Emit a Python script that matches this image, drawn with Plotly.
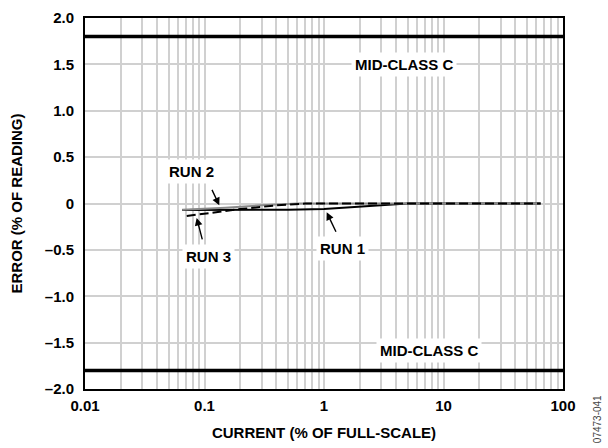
import math
import plotly.graph_objects as go

# ---- data ----
run1_x = [0.065, 0.1, 0.2, 0.5, 1.0, 2.0, 3.5, 5.0, 10.0, 30.0, 65.0]
run1_y = [-0.07, -0.07, -0.07, -0.068, -0.06, -0.035, -0.012, 0.0, 0.0, 0.0, 0.0]

run2_x = [0.065, 0.1, 0.15, 0.3, 0.6, 1.0, 10.0, 65.0]
run2_y = [-0.068, -0.058, -0.045, -0.02, 0.0, 0.0, 0.0, 0.0]

run3_x = [0.071, 0.1, 0.2, 0.4, 0.7, 1.0, 10.0, 65.0]
run3_y = [-0.135, -0.11, -0.06, -0.02, 0.0, 0.0, 0.0, 0.0]

limit_upper = 1.8
limit_lower = -1.8

x_tickvals = [0.01, 0.1, 1, 10, 100]
x_ticktext = ["0.01", "0.1", "1", "10", "100"]
y_tickvals = [-2.0, -1.5, -1.0, -0.5, 0, 0.5, 1.0, 1.5, 2.0]
y_ticktext = ["\u20132.0", "\u20131.5", "\u20131.0", "\u20130.5", "0", "0.5", "1.0", "1.5", "2.0"]
x_minor = [m * 10 ** e for e in (-2, -1, 0, 1) for m in range(2, 10)]

FONT = "Arial, 'Liberation Sans', Helvetica, sans-serif"
FS = 15

fig = go.Figure()

fig.add_trace(go.Scatter(x=run1_x, y=run1_y, mode="lines",
                         line=dict(color="black", width=2), name="RUN 1"))
fig.add_trace(go.Scatter(x=run2_x, y=run2_y, mode="lines",
                         line=dict(color="#8a8a8a", width=2), name="RUN 2"))
fig.add_trace(go.Scatter(x=run3_x, y=run3_y, mode="lines",
                         line=dict(color="black", width=2, dash="9px,4px"), name="RUN 3"))

for yv in (limit_upper, limit_lower):
    fig.add_shape(type="line", xref="paper", yref="y", x0=0, x1=1, y0=yv, y1=yv,
                  line=dict(color="black", width=3.5), layer="above")

txt_font = dict(family=FONT, size=FS, color="black", weight="bold")

def lbl(text, x, y):
    fig.add_annotation(x=math.log10(x), y=y, xref="x", yref="y", text=text,
                       showarrow=False, font=txt_font, bgcolor="white", borderpad=3)

def arr(x, y, ax, ay):
    fig.add_annotation(x=math.log10(x), y=y, xref="x", yref="y", text="",
                       showarrow=True, arrowhead=2, arrowsize=1.1, arrowwidth=1.4,
                       arrowcolor="black", ax=ax, ay=ay)

lbl("MID-CLASS C", 4.67, 1.5)
lbl("MID-CLASS C", 7.57, -1.59)
lbl("RUN 2", 0.078, 0.345)
lbl("RUN 3", 0.107, -0.574)
lbl("RUN 1", 1.44, -0.49)
arr(0.133, -0.02, -8, -17)
arr(0.086, -0.155, 6, 23)
arr(1.053, -0.095, 10, 21)

fig.add_annotation(x=(597 - 85) / (563 - 85), y=(391 - 422) / (391 - 9.5),
                   xref="paper", yref="paper", text="07473-041",
                   xanchor="center", yanchor="middle",
                   showarrow=False, textangle=-90,
                   font=dict(family=FONT, size=10, color="#444"))

fig.update_xaxes(type="log", range=[-2, 2], tickvals=x_tickvals, ticktext=x_ticktext,
                 showgrid=True, gridcolor="#d0d0d0", gridwidth=1.5,
                 minor=dict(tickvals=x_minor, showgrid=True, gridcolor="#d0d0d0", gridwidth=1.5, ticks=""),
                 showline=True, linecolor="black", linewidth=2, mirror=True, ticks="",
                 zeroline=False, ticklabelstandoff=2,
                 tickfont=dict(family=FONT, size=FS, color="black", weight="bold"),
                 title=dict(text="CURRENT (% OF FULL-SCALE)", standoff=14,
                            font=dict(family=FONT, size=FS, color="black", weight="bold")))
fig.update_yaxes(range=[-2, 2], tickvals=y_tickvals, ticktext=y_ticktext,
                 showgrid=True, gridcolor="#d0d0d0", gridwidth=1.5,
                 showline=True, linecolor="black", linewidth=2, mirror=True, ticks="",
                 zeroline=False, ticklabelstandoff=6,
                 tickfont=dict(family=FONT, size=FS, color="black", weight="bold"),
                 title=dict(text="ERROR (% OF READING)", standoff=19,
                            font=dict(family=FONT, size=FS, color="black", weight="bold")))

fig.update_layout(width=608, height=448, showlegend=False,
                  margin=dict(l=85, r=45, t=9.5, b=57),
                  plot_bgcolor="white", paper_bgcolor="white")

fig.write_html("out.html")
